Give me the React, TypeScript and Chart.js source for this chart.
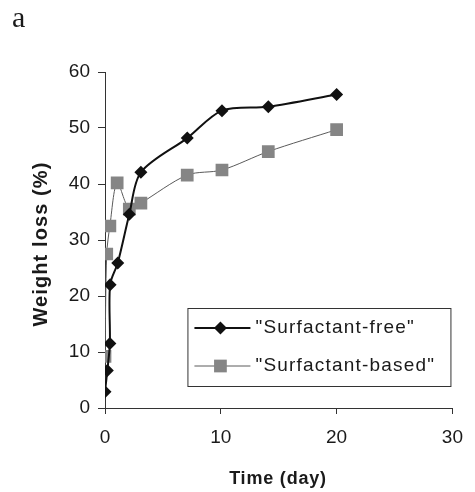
import React, { useEffect, useRef } from "react";
import { Chart, registerables } from "chart.js";

Chart.register(...registerables);

const freeDays = [0, 0.2, 0.42, 0.44, 1.1, 2.1, 3.1, 7.1, 10.1, 14.1, 20];
const freeLoss = [2.9, 6.7, 11.5, 22, 25.9, 34.6, 42.1, 48.2, 53.1, 53.8, 56.0];

const basedDays = [0, 0.15, 0.42, 1.05, 2.1, 3.1, 7.1, 10.1, 14.1, 20];
const basedLoss = [9.2, 27.5, 32.5, 40.2, 35.5, 36.6, 41.6, 42.5, 45.8, 49.7];

const seriesNames = ['"Surfactant-free"', '"Surfactant-based"'];
const xTitle = "Time (day)";
const yTitle = "Weight loss (%)";
const panelLabel = "a";

const FONT = "'Liberation Sans', Arial, Helvetica, sans-serif";
const INK = "#1a1a1a";
const GRAY = "#858585";

const titlesPlugin = {
  id: "customTitles",
  afterDraw(chart: any) {
    const ctx = chart.ctx;
    const ca = chart.chartArea;
    ctx.save();
    ctx.fillStyle = INK;
    ctx.textAlign = "center";
    ctx.textBaseline = "middle";
    ctx.font = `bold 20px ${FONT}`;
    (ctx as any).letterSpacing = "1.1px";
    ctx.translate(41, (ca.top + ca.bottom) / 2 + 4);
    ctx.rotate(-Math.PI / 2);
    ctx.fillText(yTitle, 0, 0);
    ctx.restore();
    ctx.save();
    ctx.fillStyle = INK;
    ctx.textAlign = "center";
    ctx.textBaseline = "middle";
    ctx.font = `bold 18px ${FONT}`;
    (ctx as any).letterSpacing = "0.8px";
    ctx.fillText(xTitle, 278, 479);
    ctx.restore();
  },
};

const legendPlugin = {
  id: "customLegend",
  afterDraw(chart: any) {
    const ctx = chart.ctx;
    const ca = chart.chartArea;
    const w = 263;
    const h = 78;
    const x = ca.right - 2 - w;
    const y = ca.bottom - 22 - h;
    ctx.save();
    ctx.fillStyle = "#ffffff";
    ctx.fillRect(x, y, w, h);
    ctx.strokeStyle = "#333";
    ctx.lineWidth = 1;
    ctx.strokeRect(x + 0.5, y + 0.5, w, h);
    const rows = [y + 20, y + 58];
    chart.data.datasets.forEach((ds: any, i: number) => {
      const ry = rows[i];
      ctx.strokeStyle = ds.borderColor;
      ctx.lineWidth = ds.borderWidth;
      ctx.beginPath();
      ctx.moveTo(x + 7, ry);
      ctx.lineTo(x + 63, ry);
      ctx.stroke();
      ctx.fillStyle = ds.pointBackgroundColor;
      ctx.beginPath();
      const cx = x + 33;
      if (ds.pointStyle === "rectRot") {
        const r = ds.pointRadius;
        ctx.moveTo(cx - r, ry);
        ctx.lineTo(cx, ry - r);
        ctx.lineTo(cx + r, ry);
        ctx.lineTo(cx, ry + r);
        ctx.closePath();
      } else {
        const s = Math.SQRT1_2 * ds.pointRadius;
        ctx.rect(cx - s, ry - s, 2 * s, 2 * s);
      }
      ctx.fill();
      ctx.fillStyle = INK;
      ctx.font = `19px ${FONT}`;
      (ctx as any).letterSpacing = "1.2px";
      ctx.textAlign = "left";
      ctx.textBaseline = "middle";
      ctx.fillText(ds.label, x + 68, ry);
      (ctx as any).letterSpacing = "0px";
    });
    ctx.restore();
  },
};

export default function App() {
  const ref = useRef<HTMLCanvasElement | null>(null);
  useEffect(() => {
    if (!ref.current) return;
    const chart = new Chart(ref.current, {
      type: "line",
      data: {
        datasets: [
          {
            label: seriesNames[0],
            data: freeDays.map((d, i) => ({ x: d, y: freeLoss[i] })),
            borderColor: "#111111",
            borderWidth: 2,
            pointStyle: "rectRot",
            pointRadius: 6.5,
            pointBackgroundColor: "#111111",
            pointBorderColor: "#111111",
            pointBorderWidth: 0,
            tension: 0.3,
          },
          {
            label: seriesNames[1],
            data: basedDays.map((d, i) => ({ x: d, y: basedLoss[i] })),
            borderColor: "#5a5a5a",
            borderWidth: 1,
            pointStyle: "rect",
            pointRadius: 9,
            pointBackgroundColor: GRAY,
            pointBorderColor: GRAY,
            pointBorderWidth: 0,
            tension: 0.3,
          },
        ],
      },
      options: {
        animation: false,
        responsive: true,
        maintainAspectRatio: false,
        layout: { padding: { left: 0, right: 15, top: 72, bottom: 0 } },
        plugins: { legend: { display: false }, tooltip: { enabled: false } },
        scales: {
          x: {
            type: "linear",
            min: 0,
            max: 30,
            ticks: { stepSize: 10, color: INK, font: { size: 19, family: FONT }, padding: 12 },
            grid: { drawOnChartArea: false, drawTicks: true, tickLength: 6, color: "#333" },
            border: { display: true, color: "#333", width: 1 },
            afterFit: (s: any) => {
              s.height = 84;
            },
          },
          y: {
            type: "linear",
            min: 0,
            max: 60,
            ticks: { stepSize: 10, color: INK, font: { size: 19, family: FONT }, padding: 8 },
            grid: { drawOnChartArea: false, drawTicks: true, tickLength: 7, color: "#333" },
            border: { display: true, color: "#333", width: 1 },
            afterFit: (s: any) => {
              s.width = 105;
            },
          },
        },
      },
      plugins: [titlesPlugin, legendPlugin],
    });
    return () => chart.destroy();
  }, []);
  return (
    <div style={{ position: "fixed", left: 0, top: 0, width: 475, height: 492, background: "#fff" }}>
      <canvas ref={ref} />
      <div
        style={{
          position: "absolute",
          left: 12,
          top: 2,
          fontFamily: "'Liberation Serif', 'DejaVu Serif', serif",
          fontSize: 30,
          lineHeight: "30px",
          color: INK,
        }}
      >
        {panelLabel}
      </div>
    </div>
  );
}
